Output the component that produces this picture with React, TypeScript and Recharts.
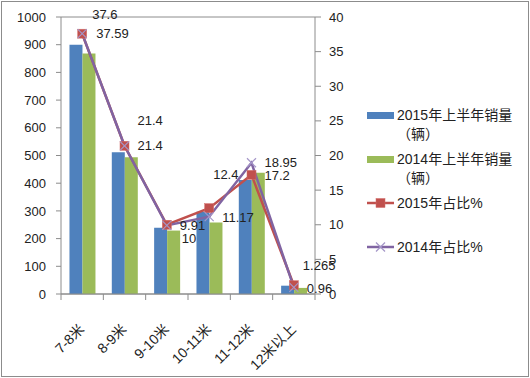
import React from 'react';
import {
  Bar,
  CartesianGrid,
  ComposedChart,
  LabelList,
  Line,
  XAxis,
  YAxis
} from 'recharts';

const categories = ['7-8米', '8-9米', '9-10米', '10-11米', '11-12米', '12米以上'];
const sales2015 = [900, 512, 239, 297, 412, 30];
const sales2014 = [868, 494, 229, 258, 438, 22];
const share2015 = [37.59, 21.4, 10, 12.4, 17.2, 1.265];
const share2014 = [37.6, 21.4, 9.91, 11.17, 18.95, 0.96];
const leftTicks = [0, 100, 200, 300, 400, 500, 600, 700, 800, 900, 1000];
const rightTicks = [0, 5, 10, 15, 20, 25, 30, 35, 40];

// label offsets (style only) so the two % series do not overlap
const offsets2015 = [[14, 0], [13, 0], [15, 14], [4, -34], [13, 1], [9, -20]];
const offsets2014 = [[10, -19], [13, -25], [13, 0], [13, 1], [13, 0], [13, 1]];

const W = 530;
const H = 378;
const LEFT = 61;
const RIGHT = 215;
const HALF_BAND = (W - LEFT - RIGHT) / categories.length / 2;

const FONT = '"Liberation Sans", "Noto Sans CJK SC", sans-serif';
const BLUE = '#4f81bd';
const GREEN = '#9bbb59';
const RED = '#c0504d';
const PURPLE = '#8064a2';
const GRID = '#8c8c8c';

const data = categories.map((name, i) => ({
  name,
  s2015: sales2015[i],
  s2014: sales2014[i],
  p2015: share2015[i],
  p2014: share2014[i]
}));

const makeLabel = (offsets: number[][]) => (props: any) => {
  const { x, y, value, index } = props;
  const [dx, dy] = offsets[index] || [12, 0];
  return (
    <text
      x={x + dx}
      y={y + dy}
      fontSize={13}
      fontFamily={FONT}
      fill="#222"
      textAnchor="start"
      dominantBaseline="central"
    >
      {value}
    </text>
  );
};

const CategoryTick = (props: any) => {
  const { x, y, payload, index } = props;
  return (
    <g>
      <line x1={x - HALF_BAND} y1={y} x2={x - HALF_BAND} y2={y + 6} stroke={GRID} />
      {index === categories.length - 1 && (
        <line x1={x + HALF_BAND} y1={y} x2={x + HALF_BAND} y2={y + 6} stroke={GRID} />
      )}
      <g transform={`translate(${x + 3},${y + 36}) rotate(-45)`}>
        <text x={0} y={0} textAnchor="end" fontSize={14} fontFamily={FONT} fill="#222">
          {payload.value}
        </text>
      </g>
    </g>
  );
};

const SquareDot = (props: any) => {
  const { cx, cy } = props;
  if (cx == null || cy == null) return null;
  return <rect x={cx - 4.5} y={cy - 4.5} width={9} height={9} fill={RED} stroke="#d46d6a" strokeWidth={0.5} />;
};

const CrossDot = (props: any) => {
  const { cx, cy } = props;
  if (cx == null || cy == null) return null;
  return (
    <g stroke="#a496c8" strokeWidth={1.2}>
      <line x1={cx - 4.5} y1={cy - 4.5} x2={cx + 4.5} y2={cy + 4.5} />
      <line x1={cx - 4.5} y1={cy + 4.5} x2={cx + 4.5} y2={cy - 4.5} />
    </g>
  );
};

const legendItems = [
  { kind: 'bar', color: BLUE, lines: ['2015年上半年销量', '（辆）'], y: 115 },
  { kind: 'bar', color: GREEN, lines: ['2014年上半年销量', '（辆）'], y: 159 },
  { kind: 'square', color: RED, lines: ['2015年占比%'], y: 203 },
  { kind: 'cross', color: PURPLE, lines: ['2014年占比%'], y: 247 }
];

const Legend = () => (
  <svg width={W} height={H} style={{ position: 'absolute', left: 0, top: 0, pointerEvents: 'none' }}>
    {legendItems.map(item => (
      <g key={item.lines[0]}>
        {item.kind === 'bar' ? (
          <rect x={367} y={item.y - 3} width={27} height={7} fill={item.color} />
        ) : (
          <line x1={367} y1={item.y} x2={394} y2={item.y} stroke={item.color} strokeWidth={2.5} />
        )}
        {item.kind === 'square' && <SquareDot cx={380.5} cy={item.y} />}
        {item.kind === 'cross' && <CrossDot cx={380.5} cy={item.y} />}
        {item.lines.map((t, j) => (
          <text
            key={t}
            x={397}
            y={item.y + j * 19}
            fontSize={14}
            fontFamily={FONT}
            fill="#222"
            dominantBaseline="central"
          >
            {t}
          </text>
        ))}
      </g>
    ))}
  </svg>
);

export default function App() {
  return (
    <div
      style={{
        position: 'absolute',
        left: 0,
        top: 0,
        width: W,
        height: H,
        background: '#fff'
      }}
    >
      <ComposedChart
        width={W}
        height={H}
        data={data}
        margin={{ top: 17, right: 0, bottom: 0, left: 0 }}
        barCategoryGap="20%"
        barGap={0}
      >
        <CartesianGrid vertical={false} stroke={GRID} />
        <XAxis
          dataKey="name"
          height={84}
          stroke={GRID}
          tickLine={false}
          tickSize={0}
          tickMargin={0}
          interval={0}
          tick={<CategoryTick />}
        />
        <YAxis
          yAxisId="left"
          width={LEFT}
          domain={[0, 1000]}
          ticks={leftTicks}
          stroke={GRID}
          tickSize={5}
          tickMargin={10}
          tick={{ fontSize: 13, fontFamily: FONT, fill: '#222' }}
        />
        <YAxis
          yAxisId="right"
          orientation="right"
          width={RIGHT}
          domain={[0, 40]}
          ticks={rightTicks}
          stroke={GRID}
          tickSize={6}
          tickMargin={8}
          tick={{ fontSize: 13, fontFamily: FONT, fill: '#222', textAnchor: 'start' }}
        />
        <Bar yAxisId="left" dataKey="s2015" fill={BLUE} isAnimationActive={false} />
        <Bar yAxisId="left" dataKey="s2014" fill={GREEN} isAnimationActive={false} />
        <Line
          yAxisId="right"
          dataKey="p2015"
          stroke={RED}
          strokeWidth={2.5}
          dot={<SquareDot />}
          activeDot={false}
          isAnimationActive={false}
        >
          <LabelList dataKey="p2015" content={makeLabel(offsets2015)} />
        </Line>
        <Line
          yAxisId="right"
          dataKey="p2014"
          stroke={PURPLE}
          strokeWidth={2.5}
          dot={<CrossDot />}
          activeDot={false}
          isAnimationActive={false}
        >
          <LabelList dataKey="p2014" content={makeLabel(offsets2014)} />
        </Line>
      </ComposedChart>
      <Legend />
      <div
        style={{
          position: 'absolute',
          left: 1,
          top: 1,
          width: W - 4,
          height: H - 4,
          border: '1px solid #8c8c8c',
          pointerEvents: 'none'
        }}
      />
    </div>
  );
}
